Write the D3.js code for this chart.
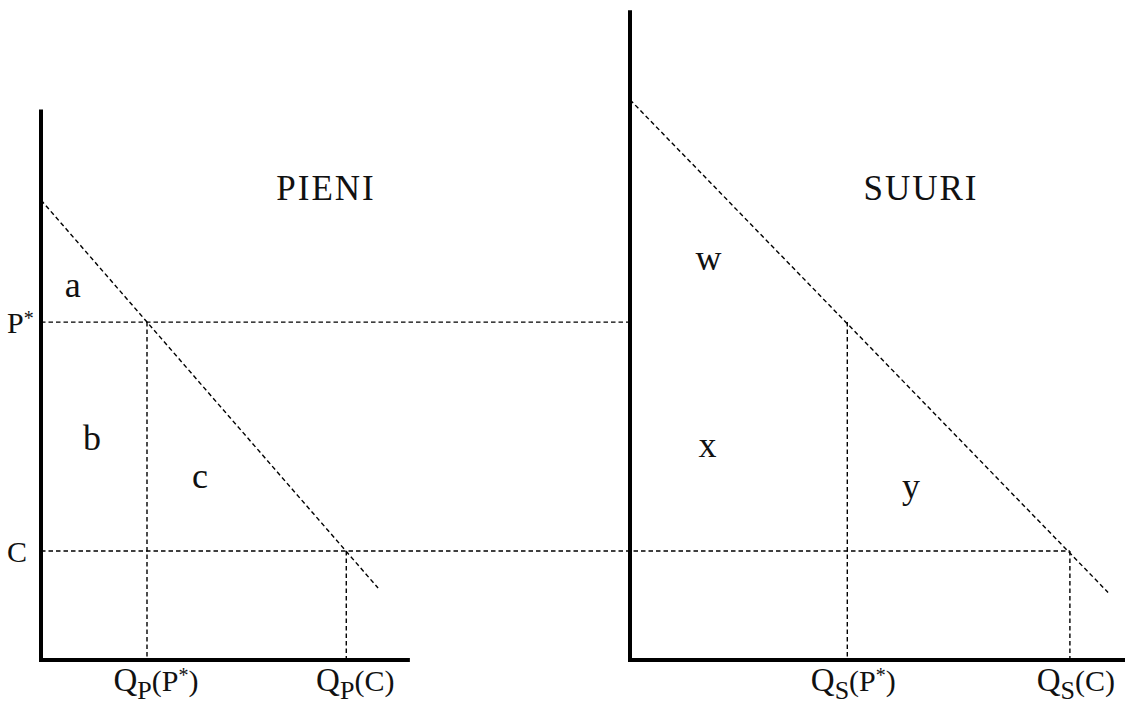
<!DOCTYPE html>
<html>
<head>
<meta charset="utf-8">
<script src="https://cdn.jsdelivr.net/npm/d3@7"></script>
<style>
  html, body { margin: 0; padding: 0; background: #fff; }
  svg text { font-family: "Liberation Serif", "DejaVu Serif", serif; fill: #111; }
</style>
</head>
<body>
<svg id="chart" width="1125" height="704"></svg>
<script>
// price levels shared by both markets
const priceLabels = ['P*', 'C'];
const priceValues = [3.1, 1.0];

// quantities demanded at P* and at C
const pieniQ = [1.0, 2.88];
const suuriQ = [2.05, 4.15];

// demand lines: [q, p] endpoints
const pieniDemand = [[0, 4.22], [3.18, 0.66]];
const suuriDemand = [[0, 5.14], [4.51, 0.62]];

// axis extents [qMax, pMax]
const pieniAxis = [3.48, 5.05];
const suuriAxis = [4.67, 5.96];

// surplus area labels [label, q, p]
const pieniAreas = [['a', 0.30, 3.33], ['b', 0.48, 1.93], ['c', 1.50, 1.58]];
const suuriAreas = [['w', 0.74, 3.58], ['x', 0.73, 1.86], ['y', 2.65, 1.49]];

const svg = d3.select('#chart');

const y = d3.scaleLinear().domain([0, 1]).range([660, 551]);
const xP = d3.scaleLinear().domain([0, 1]).range([41, 147]);
const xS = d3.scaleLinear().domain([0, 1]).range([630, 736]);

const dash = '4.5,3';

function dashed(x1, y1, x2, y2) {
    svg.append('line')
        .attr('x1', x1).attr('y1', y1)
        .attr('x2', x2).attr('y2', y2)
        .attr('stroke', '#000')
        .attr('stroke-width', 1.4)
        .attr('stroke-dasharray', dash);
}

// horizontal price lines run across both panels
dashed(xP(0), y(priceValues[0]), xS(0), y(priceValues[0]));
dashed(xP(0), y(priceValues[1]), xS(suuriQ[1]), y(priceValues[1]));

// vertical drops
pieniQ.forEach((q, i) => dashed(xP(q), y(priceValues[i]), xP(q), y(0)));
suuriQ.forEach((q, i) => dashed(xS(q), y(priceValues[i]), xS(q), y(0)));

// demand curves
const line = (xs) => d3.line().x(d => xs(d[0])).y(d => y(d[1]));
svg.append('path').datum(pieniDemand)
    .attr('d', line(xP))
    .attr('fill', 'none').attr('stroke', '#000')
    .attr('stroke-width', 1.4).attr('stroke-dasharray', dash);
svg.append('path').datum(suuriDemand)
    .attr('d', line(xS))
    .attr('fill', 'none').attr('stroke', '#000')
    .attr('stroke-width', 1.4).attr('stroke-dasharray', dash);

// axes
function axes(xs, ext) {
    svg.append('path')
        .attr('d', `M${xs(0)},${y(ext[1])} L${xs(0)},${y(0)} L${xs(ext[0])},${y(0)}`)
        .attr('fill', 'none')
        .attr('stroke', '#000')
        .attr('stroke-width', 4);
}
axes(xP, pieniAxis);
axes(xS, suuriAxis);

// price labels on left axis
priceLabels.forEach((lab, i) => {
    const t = svg.append('text')
        .attr('x', 7)
        .attr('y', y(priceValues[i]) + 11)
        .style('font-size', '30px');
    t.append('tspan').text(lab[0]);
    if (lab.length > 1) {
        t.append('tspan').text(lab.slice(1))
            .style('font-size', '20px')
            .attr('dy', -8);
    }
});

// area labels
pieniAreas.forEach(d => {
    svg.append('text')
        .attr('x', xP(d[1])).attr('y', y(d[2]))
        .attr('text-anchor', 'middle')
        .style('font-size', '36px')
        .text(d[0]);
});
suuriAreas.forEach(d => {
    svg.append('text')
        .attr('x', xS(d[1])).attr('y', y(d[2]))
        .attr('text-anchor', 'middle')
        .style('font-size', '36px')
        .text(d[0]);
});

// panel titles
svg.append('text')
    .attr('x', 326).attr('y', 200)
    .attr('text-anchor', 'middle')
    .style('font-size', '35px')
    .style('letter-spacing', '2px')
    .text('PIENI');
svg.append('text')
    .attr('x', 921).attr('y', 200)
    .attr('text-anchor', 'middle')
    .style('font-size', '35px')
    .style('letter-spacing', '2px')
    .text('SUURI');

// quantity labels
function qLabel(x, sub, arg) {
    const t = svg.append('text')
        .attr('x', x).attr('y', 691)
        .attr('text-anchor', 'middle')
        .style('font-size', '33px');
    t.append('tspan').text('Q');
    t.append('tspan').text(sub).style('font-size', '26px').attr('dy', 8);
    t.append('tspan').text('(' + arg[0]).style('font-size', '30px').attr('dy', -8);
    if (arg.length > 1) {
        t.append('tspan').text(arg.slice(1)).style('font-size', '20px').attr('dy', -9);
        t.append('tspan').text(')').style('font-size', '30px').attr('dy', 9);
    } else {
        t.append('tspan').text(')').style('font-size', '30px');
    }
}
pieniQ.forEach((q, i) => qLabel(xP(q) + 9, 'P', priceLabels[i]));
suuriQ.forEach((q, i) => qLabel(xS(q) + 6, 'S', priceLabels[i]));
</script>
</body>
</html>
